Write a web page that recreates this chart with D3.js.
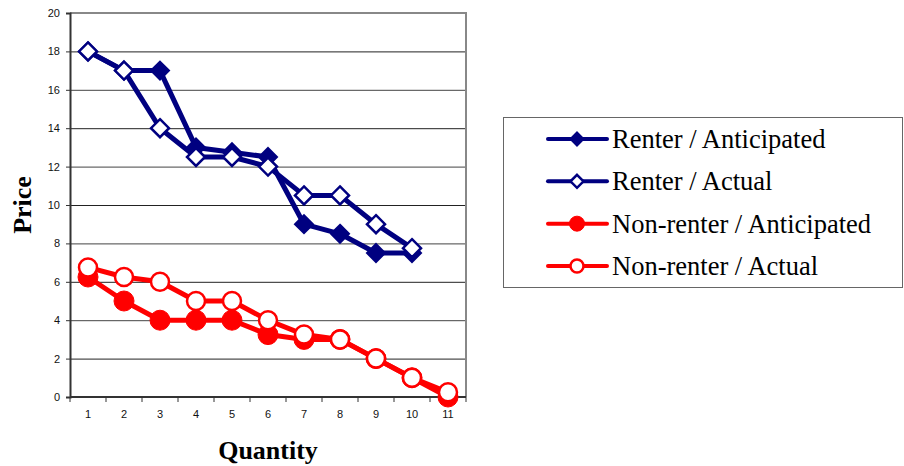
<!DOCTYPE html>
<html>
<head>
<meta charset="utf-8">
<script src="https://cdn.jsdelivr.net/npm/d3@7"></script>
<style>
  body { margin: 0; background: #fff; }
  svg { display: block; }
</style>
</head>
<body>
<script>
const quantity = [1, 2, 3, 4, 5, 6, 7, 8, 9, 10, 11];
const renterAnticipated = [18, 17, 17, 13, 12.75, 12.5, 9, 8.5, 7.5, 7.5, null];
const renterActual = [18, 17, 14, 12.5, 12.5, 12, 10.5, 10.5, 9, 7.75, null];
const nonRenterAnticipated = [6.25, 5, 4, 4, 4, 3.25, 3, 3, 2, 1, 0];
const nonRenterActual = [6.75, 6.25, 6, 5, 5, 4, 3.25, 3, 2, 1, 0.25];
const seriesNames = ["Renter / Anticipated", "Renter / Actual", "Non-renter / Anticipated", "Non-renter / Actual"];
const yTicks = [0, 2, 4, 6, 8, 10, 12, 14, 16, 18, 20];

const width = 904, height = 466;
const margin = {top: 13, right: 438, bottom: 69, left: 70};

const series = [
  {name: seriesNames[0], values: renterAnticipated, color: "#000080", shape: "diamond", filled: true},
  {name: seriesNames[1], values: renterActual, color: "#000080", shape: "diamond", filled: false},
  {name: seriesNames[2], values: nonRenterAnticipated, color: "#ff0000", shape: "circle", filled: true},
  {name: seriesNames[3], values: nonRenterActual, color: "#ff0000", shape: "circle", filled: false}
];

const svg = d3.select("body").append("svg")
    .attr("width", width)
    .attr("height", height);

const x = d3.scaleBand(quantity, [margin.left, width - margin.right]);
const y = d3.scaleLinear([0, 20], [height - margin.bottom, margin.top]);
const cx = d => x(d) + x.bandwidth() / 2;

// gridlines
svg.append("g")
  .selectAll("line")
  .data(yTicks.filter(d => d > 0 && d < 20))
  .join("line")
    .attr("x1", margin.left)
    .attr("x2", width - margin.right)
    .attr("y1", d => y(d) + 0.5)
    .attr("y2", d => y(d) + 0.5)
    .attr("stroke", (d, i) => i % 2 ? "#444" : "#222")
    .attr("stroke-width", 1);

// frame top and right
svg.append("path")
    .attr("d", `M${margin.left},${margin.top}H${width - margin.right}V${height - margin.bottom}`)
    .attr("fill", "none")
    .attr("stroke", "#888")
    .attr("stroke-width", 2);

// y axis
svg.append("g")
    .attr("transform", `translate(${margin.left},0)`)
    .call(d3.axisLeft(y).tickValues(yTicks).tickSize(4).tickPadding(6))
    .call(g => g.select(".domain").attr("stroke", "#333").attr("stroke-width", 2))
    .call(g => g.selectAll(".tick line").attr("stroke", "#333"))
    .call(g => g.selectAll("text").attr("font-family", "Liberation Sans, Arial").attr("font-size", 11).attr("fill", "#111"));

// x axis
const xAxis = svg.append("g")
    .attr("transform", `translate(0,${height - margin.bottom})`)
    .call(d3.axisBottom(x).tickSize(0).tickPadding(13))
    .call(g => g.select(".domain").attr("stroke", "#333").attr("stroke-width", 2).attr("d", `M${margin.left},0H${width - margin.right}`))
    .call(g => g.selectAll("text").attr("font-family", "Liberation Sans, Arial").attr("font-size", 11).attr("fill", "#111"));

xAxis.append("g")
  .selectAll("line")
  .data(d3.range(quantity.length + 1))
  .join("line")
    .attr("x1", i => margin.left + i * x.step())
    .attr("x2", i => margin.left + i * x.step())
    .attr("y1", 0)
    .attr("y2", 5)
    .attr("stroke", "#333");

// axis titles
svg.append("text")
    .attr("transform", `translate(31,${(margin.top + height - margin.bottom) / 2}) rotate(-90)`)
    .attr("text-anchor", "middle")
    .attr("font-family", "Liberation Serif, Times New Roman")
    .attr("font-weight", "bold")
    .attr("font-size", 26)
    .text("Price");

svg.append("text")
    .attr("x", (margin.left + width - margin.right) / 2)
    .attr("y", 459)
    .attr("text-anchor", "middle")
    .attr("font-family", "Liberation Serif, Times New Roman")
    .attr("font-weight", "bold")
    .attr("font-size", 26)
    .text("Quantity");

const line = d3.line()
    .defined(d => d.v != null)
    .x(d => cx(d.q))
    .y(d => y(d.v));

function marker(g, s, size) {
  if (s.shape === "diamond") {
    const r = size;
    g.append("path")
        .attr("d", `M0,${-r}L${r},0L0,${r}L${-r},0Z`)
        .attr("fill", s.filled ? s.color : "#fff")
        .attr("stroke", s.color)
        .attr("stroke-width", s.filled ? 2 : 2.5);
  } else {
    g.append("circle")
        .attr("r", s.filled ? size + 1 : size)
        .attr("fill", s.filled ? s.color : "#fff")
        .attr("stroke", s.color)
        .attr("stroke-width", s.filled ? 1 : 2.5);
  }
}

series.forEach(s => {
  const pts = quantity.map((q, i) => ({q, v: s.values[i]}));
  const g = svg.append("g");
  g.append("path")
      .attr("d", line(pts))
      .attr("fill", "none")
      .attr("stroke", s.color)
      .attr("stroke-width", 5)
      .attr("stroke-linejoin", "round");
  g.selectAll("g")
    .data(pts.filter(d => d.v != null))
    .join("g")
      .attr("transform", d => `translate(${cx(d.q)},${y(d.v)})`)
      .each(function() { marker(d3.select(this), s, 9); });
});

// legend
const legend = svg.append("g");
legend.append("rect")
    .attr("x", 503.5)
    .attr("y", 117.5)
    .attr("width", 399)
    .attr("height", 170)
    .attr("fill", "#fff")
    .attr("stroke", "#666")
    .attr("stroke-width", 1);

const ly = d3.scalePoint(seriesNames, [139, 266]);
const item = legend.selectAll("g.item")
  .data(series)
  .join("g")
    .attr("class", "item")
    .attr("transform", d => `translate(0,${ly(d.name)})`);

item.append("line")
    .attr("x1", 548)
    .attr("x2", 607)
    .attr("stroke", d => d.color)
    .attr("stroke-width", 4)
    .attr("stroke-linecap", "round");

item.append("g")
    .attr("transform", "translate(577,0)")
    .each(function(d) { marker(d3.select(this), d, 6.5); });

item.append("text")
    .attr("x", 612)
    .attr("y", 9)
    .attr("font-family", "Liberation Serif, Times New Roman")
    .attr("font-size", 26.5)
    .attr("fill", "#000")
    .text(d => d.name);
</script>
</body>
</html>
